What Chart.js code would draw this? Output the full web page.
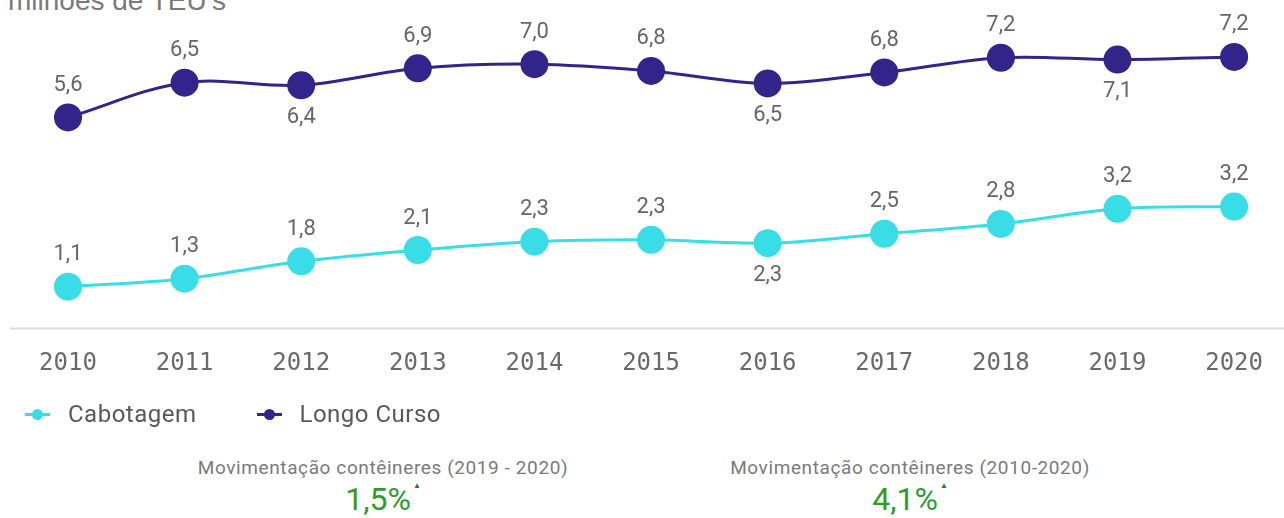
<!DOCTYPE html>
<html lang="pt-BR">
<head>
<meta charset="utf-8">
<title>Movimentação de contêineres</title>
<script src="https://cdn.jsdelivr.net/npm/chart.js@4.4.1/dist/chart.umd.min.js"></script>
<style>
    html, body { margin: 0; padding: 0; background: #fff; }
    #page { position: relative; width: 1284px; height: 518px; overflow: hidden; font-family: Roboto, "Noto Sans", sans-serif; }
    #unit { position: absolute; left: 8px; top: -13px; font: 28px/28px "Liberation Sans", Arial, sans-serif; color: #7a7a7a; white-space: nowrap; }
    #chartBox { position: absolute; left: 0; top: 0; width: 1284px; height: 412px; }
    #legend { position: absolute; left: 25px; top: 400px; display: flex; align-items: center; font-size: 24px; letter-spacing: 0.5px; color: #595959; }
    .item { display: flex; align-items: center; margin-right: 60px; }
    .mark { position: relative; width: 25px; height: 12px; margin-right: 18px; }
    .mark .ln { position: absolute; left: 0; right: 0; top: 5px; height: 3px; }
    .mark .dt { position: absolute; left: 7px; top: 1px; width: 11px; height: 11px; border-radius: 50%; }
    .kpi { position: absolute; top: 456px; width: 440px; text-align: center; }
    .kpi .lbl { font-size: 19px; letter-spacing: 0.6px; color: #7a7a7a; white-space: nowrap; }
    .kpi .val { font-size: 32px; color: #2a9d2a; line-height: 36px; margin-top: -11px; }
    .kpi .val sup { font-size: 8px; color: #2a7a2a; vertical-align: 22px; margin-left: 2px; }
</style>
</head>
<body>
<div id="page">
    <div id="unit">milhões de TEU's</div>
    <div id="chartBox"><canvas id="teuChart"></canvas></div>
    <div id="legend"></div>
    <div class="kpi" style="left:163px">
        <div class="lbl">Movimentação contêineres (2019 - 2020)</div>
        <div class="val">1,5%<sup>▲</sup></div>
    </div>
    <div class="kpi" style="left:690px">
        <div class="lbl">Movimentação contêineres (2010-2020)</div>
        <div class="val">4,1%<sup>▲</sup></div>
    </div>
</div>
<script>
// anos e volumes (milhões de TEU's)
const years = ['2010', '2011', '2012', '2013', '2014', '2015', '2016', '2017', '2018', '2019', '2020'];
const cabotagem = [1.10, 1.31, 1.77, 2.07, 2.29, 2.34, 2.25, 2.50, 2.76, 3.16, 3.22];
const longoCurso = [5.58, 6.50, 6.43, 6.88, 6.99, 6.81, 6.48, 6.77, 7.16, 7.11, 7.18];
const seriesNames = ['Cabotagem', 'Longo Curso'];
const seriesColors = ['#38dde8', '#31258b'];

const fmt = v => v.toFixed(1).replace('.', ',');

// linha base sob o gráfico
const baseLine = {
    id: 'baseLine',
    beforeDatasetsDraw(chart) {
        const ctx = chart.ctx;
        const y = Math.round(chart.chartArea.bottom) + 0.5;
        ctx.save();
        ctx.strokeStyle = '#dcdcdc';
        ctx.lineWidth = 2;
        ctx.beginPath();
        ctx.moveTo(10, y);
        ctx.lineTo(chart.width, y);
        ctx.stroke();
        ctx.restore();
    }
};

// rótulos de valor: abaixo nos mínimos locais, acima nos demais
const valueLabels = {
    id: 'valueLabels',
    afterDatasetsDraw(chart) {
        const ctx = chart.ctx;
        ctx.save();
        ctx.font = '22px Roboto, sans-serif';
        ctx.fillStyle = '#666';
        ctx.textAlign = 'center';
        ctx.textBaseline = 'middle';
        chart.data.datasets.forEach((ds, di) => {
            const meta = chart.getDatasetMeta(di);
            meta.data.forEach((pt, i) => {
                const v = ds.data[i];
                const prev = ds.data[i - 1], next = ds.data[i + 1];
                const below = prev !== undefined && next !== undefined && v < prev && v < next;
                ctx.fillText(fmt(v), pt.x, pt.y + (below ? 32 : -32));
            });
        });
        ctx.restore();
    }
};

const ctx = document.getElementById('teuChart').getContext('2d');
new Chart(ctx, {
    type: 'line',
    data: {
        labels: years,
        datasets: [cabotagem, longoCurso].map((d, i) => ({
            label: seriesNames[i],
            data: d,
            borderColor: seriesColors[i],
            backgroundColor: seriesColors[i],
            borderWidth: 3,
            pointRadius: 14,
            pointHoverRadius: 14,
            pointBorderWidth: 0,
            tension: 0.35,
            clip: false
        }))
    },
    options: {
        responsive: true,
        maintainAspectRatio: false,
        animation: false,
        layout: { padding: { left: 68, right: 48, top: 26, bottom: 13 } },
        plugins: {
            legend: { display: false },
            tooltip: { enabled: false }
        },
        scales: {
            x: {
                grid: { display: false, drawTicks: false },
                border: { display: false },
                ticks: {
                    padding: 21,
                    color: '#6a6a6a',
                    font: { family: '"DejaVu Sans Mono", monospace', size: 24 }
                }
            },
            y: { display: false, min: 0, max: 8 }
        }
    },
    plugins: [baseLine, valueLabels]
});

// legenda
const legend = document.getElementById('legend');
seriesNames.forEach((name, i) => {
    const item = document.createElement('div');
    item.className = 'item';
    item.innerHTML = `<span class="mark"><span class="ln" style="background:${seriesColors[i]}"></span><span class="dt" style="background:${seriesColors[i]}"></span></span><span>${name}</span>`;
    legend.appendChild(item);
});
</script>
</body>
</html>
